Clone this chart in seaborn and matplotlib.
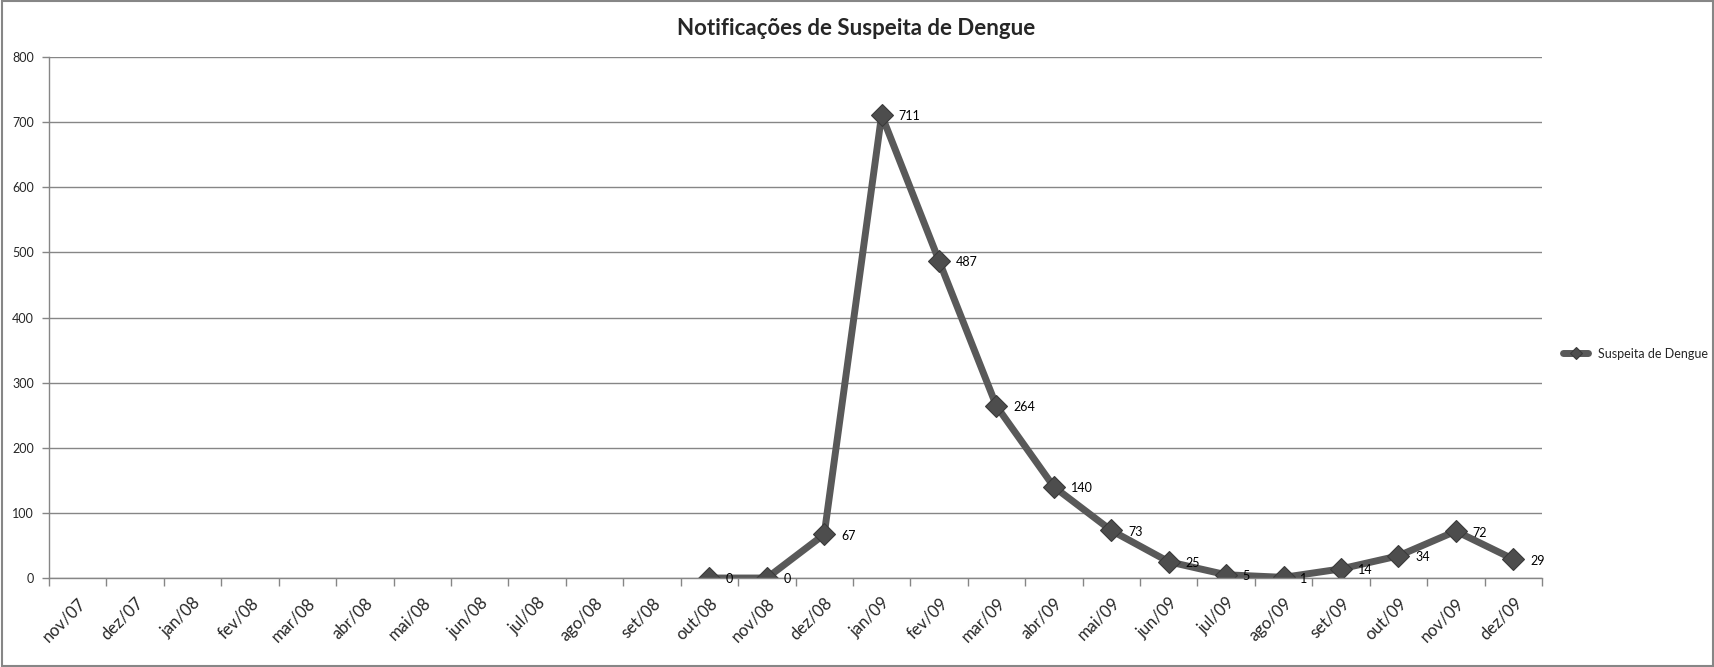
import numpy as np
import pandas as pd
import matplotlib
matplotlib.use("Agg")
import matplotlib.pyplot as plt
import seaborn as sns
from matplotlib.patches import Rectangle

months = ["nov/07", "dez/07", "jan/08", "fev/08", "mar/08", "abr/08", "mai/08", "jun/08",
          "jul/08", "ago/08", "set/08", "out/08", "nov/08", "dez/08", "jan/09", "fev/09",
          "mar/09", "abr/09", "mai/09", "jun/09", "jul/09", "ago/09", "set/09", "out/09",
          "nov/09", "dez/09"]
values = [np.nan] * 11 + [0, 0, 67, 711, 487, 264, 140, 73, 25, 5, 1, 14, 34, 72, 29]
yticks = [0, 100, 200, 300, 400, 500, 600, 700, 800]
series_name = "Suspeita de Dengue"
title = "Notificações de Suspeita de Dengue"

sns.set_theme(style="white")
plt.rcParams['font.family'] = ['Lato', 'DejaVu Sans']

df = pd.DataFrame({"idx": np.arange(len(months)), "mes": months, "valor": values})

fig = plt.figure(figsize=(17.15, 6.67), dpi=100)
ax = fig.add_axes([0.0286, 0.1334, 0.8705, 0.7811])

line_color = "#595959"
sns.lineplot(data=df.dropna(), x="idx", y="valor", ax=ax, color=line_color, linewidth=5,
             marker="D", markersize=11, markerfacecolor="#4d4d4d", markeredgecolor="#3a3a3a",
             markeredgewidth=0.8, label=series_name, legend=False)

for i, v in zip(df["idx"], df["valor"]):
    if not np.isnan(v):
        ax.annotate(f"{int(v)}", (i, v), xytext=(12, -1), textcoords="offset points",
                    fontsize=9, ha="left", va="center", color="black")

ax.set_xlim(-0.5, len(months) - 0.5)
ax.set_ylim(0, 800)
ax.set_yticks(yticks)
ax.set_yticklabels([str(t) for t in yticks], fontsize=9)
ax.yaxis.grid(True, color="#868686", linewidth=1)
ax.set_axisbelow(True)

ax.set_xticks(np.arange(len(months)))
ax.set_xticklabels(months, rotation=45, ha="right", rotation_mode="anchor", fontsize=12)
ax.set_xticks(np.arange(len(months) + 1) - 0.5, minor=True)
ax.tick_params(axis="x", which="major", length=0, pad=12)
ax.tick_params(axis="x", which="minor", length=6, width=1, color="#868686", direction="out", bottom=True)
ax.tick_params(axis="y", length=5, width=1, color="#868686", direction="out", left=True, pad=6)

ax.set_xlabel("")
ax.set_ylabel("")
for s in ["top", "right"]:
    ax.spines[s].set_visible(False)
for s in ["left", "bottom"]:
    ax.spines[s].set_color("#868686")
    ax.spines[s].set_linewidth(1)

fig.suptitle(title, fontsize=16, fontweight="bold", x=0.499, y=0.958, va="center")

handles, labels = ax.get_legend_handles_labels()
fig.legend(handles, labels, loc="center left", bbox_to_anchor=(0.905, 0.47), frameon=False,
           fontsize=9, handlelength=2.0, markerscale=0.55)

fig.patches.append(Rectangle((0.001, 0.001), 0.998, 0.997, transform=fig.transFigure,
                             fill=False, edgecolor="#868686", linewidth=1.5))

fig.savefig("out.png", dpi=100, facecolor="white")
